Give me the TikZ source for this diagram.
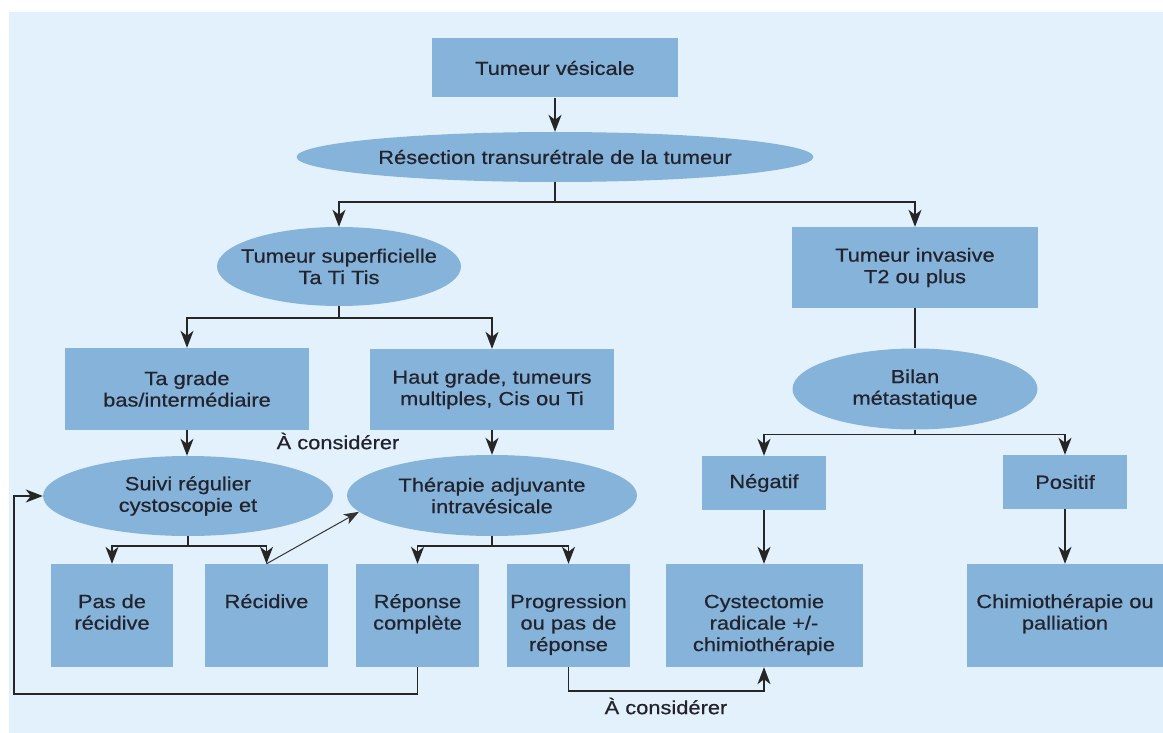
\documentclass[tikz,border=0pt]{standalone}
\usepackage{fontspec}
\setmainfont{Liberation Sans}[FakeStretch=1.15,FakeBold=0.5]
\usetikzlibrary{shapes.geometric,arrows.meta}
\definecolor{fondbleu}{RGB}{227,241,252}
\definecolor{boitebleu}{RGB}{133,179,217}
\definecolor{encre}{RGB}{35,35,45}
\tikzset{
    boite/.style={rectangle,fill=boitebleu,inner sep=0pt,align=center},
    bas/.style={boite,minimum width=#1,minimum height=103pt},
    bulle/.style={ellipse,fill=boitebleu,inner xsep=-40pt,inner ysep=0pt,align=center},
    textebas/.style={inner sep=0pt,align=center,anchor=north},
    fleche/.style={-{Stealth[length=17pt,width=13pt,inset=5pt]},line width=1.5pt,draw=black!85},
    trait/.style={line width=1.5pt,draw=black!85},
    flechefine/.style={-{Stealth[length=15pt,width=11pt,inset=4pt]},line width=1pt,draw=black!80}
}
\begin{document}
\begin{tikzpicture}[x=1pt,y=-1pt,font=\fontsize{19}{21.5}\selectfont,text=encre]
        %% Fond
        \fill[white] (0,0) rectangle (1163,733);
        \fill[fondbleu] (9,12) rectangle (1163,733);
        \useasboundingbox (0,0) rectangle (1163,733);
        %% Haut
        \node[boite,minimum width=246pt,minimum height=59pt] (tumeur) at (555,68) {Tumeur vésicale};
        \node[bulle,minimum width=517pt,minimum height=50pt] (rtu) at (555,157) {Résection transurétrale de la tumeur};
        \node[bulle,minimum width=244pt,minimum height=79pt] (superf) at (339,266.5) {Tumeur superficielle\\Ta Ti Tis};
        \node[boite,minimum width=246pt,minimum height=81pt] (invasive) at (915,267.5) {Tumeur invasive\\T2 ou plus};
        %% Branche superficielle
        \node[boite,minimum width=244pt,minimum height=82pt] (tagrade) at (187,389) {Ta grade\\bas/intermédiaire};
        \node[boite,minimum width=244pt,minimum height=81pt] (hautgrade) at (492,389.5) {Haut grade, tumeurs\\multiples, Cis ou Ti};
        \node (considA) at (338,441) {À considérer};
        \node[bulle,minimum width=290pt,minimum height=80pt] (suivi) at (188,496) {Suivi régulier\\cystoscopie et};
        \node[bulle,minimum width=290pt,minimum height=81pt] (therapie) at (492,495.5) {Thérapie adjuvante\\intravésicale};
        %% Branche invasive
        \node[bulle,minimum width=245pt,minimum height=81pt] (bilan) at (915,389) {Bilan\\métastatique};
        \node[boite,minimum width=124pt,minimum height=54pt] (negatif) at (764,483) {Négatif};
        \node[boite,minimum width=124pt,minimum height=54pt] (positif) at (1065,482) {Positif};
        %% Rangée du bas
        \node[bas=122pt] (pasrec) at (112,615.5) {};
        \node[bas=123pt] (recid) at (266.5,615.5) {};
        \node[bas=123pt] (reponse) at (417.5,615.5) {};
        \node[bas=123pt] (progres) at (568.5,615.5) {};
        \node[bas=197pt] (cystec) at (764,615.5) {};
        \node[bas=196pt] (chimio) at (1065,615.5) {};
        \node[textebas] (pasrectxt) at ([yshift=-29pt]pasrec.north) {\strut Pas de\\récidive};
        \node[textebas] (recidtxt) at ([yshift=-29pt]recid.north) {\strut Récidive};
        \node[textebas] (reponsetxt) at ([yshift=-29pt]reponse.north) {\strut Réponse\\complète};
        \node[textebas] (progrestxt) at ([yshift=-29pt]progres.north) {\strut Progression\\ou pas de\\réponse};
        \node[textebas] (cystectxt) at ([yshift=-29pt]cystec.north) {\strut Cystectomie\\radicale +/-\\chimiothérapie};
        \node[textebas] (chimiotxt) at ([yshift=-29pt]chimio.north) {\strut Chimiothérapie ou\\palliation};
        \node (considB) at (666,706) {À considérer};
        %% Liaisons
        \draw[fleche] (tumeur) -- (rtu);
        \draw[fleche] (rtu.south) -- ++(0,20) -| (superf.north);
        \draw[fleche] (rtu.south) -- ++(0,20) -| (invasive.north);
        \draw[fleche] (superf.south) -- ++(0,12) -| (tagrade.north);
        \draw[fleche] (superf.south) -- ++(0,12) -| (hautgrade.north);
        \draw[fleche] (tagrade.south) -- (tagrade.south |- suivi.north);
        \draw[fleche] (hautgrade) -- (therapie);
        \draw[fleche] (suivi.south) -- ++(0,10) -| (pasrec.north);
        \draw[fleche] (suivi.south) -- ++(0,10) -| (recid.north);
        \draw[fleche] (therapie.south) -- ++(0,10) -| (reponse.north);
        \draw[fleche] (therapie.south) -- ++(0,10) -| (progres.north);
        \draw[flechefine] (recid.north) -- (therapie.187);
        \coordinate (retour) at (14,694);
        \draw[fleche] (reponse.south) |- (retour) |- (suivi.west);
        \draw[fleche] (progres.south) -- ++(0,24) -| (cystec.south);
        \draw[trait] (invasive) -- (bilan);
        \draw[fleche] (bilan.south) -- ++(0,5) -| (negatif.north);
        \draw[fleche] (bilan.south) -- ++(0,5) -| (positif.north);
        \draw[fleche] (negatif) -- (cystec);
        \draw[fleche] (positif) -- (chimio);
    \end{tikzpicture}
\end{document}
